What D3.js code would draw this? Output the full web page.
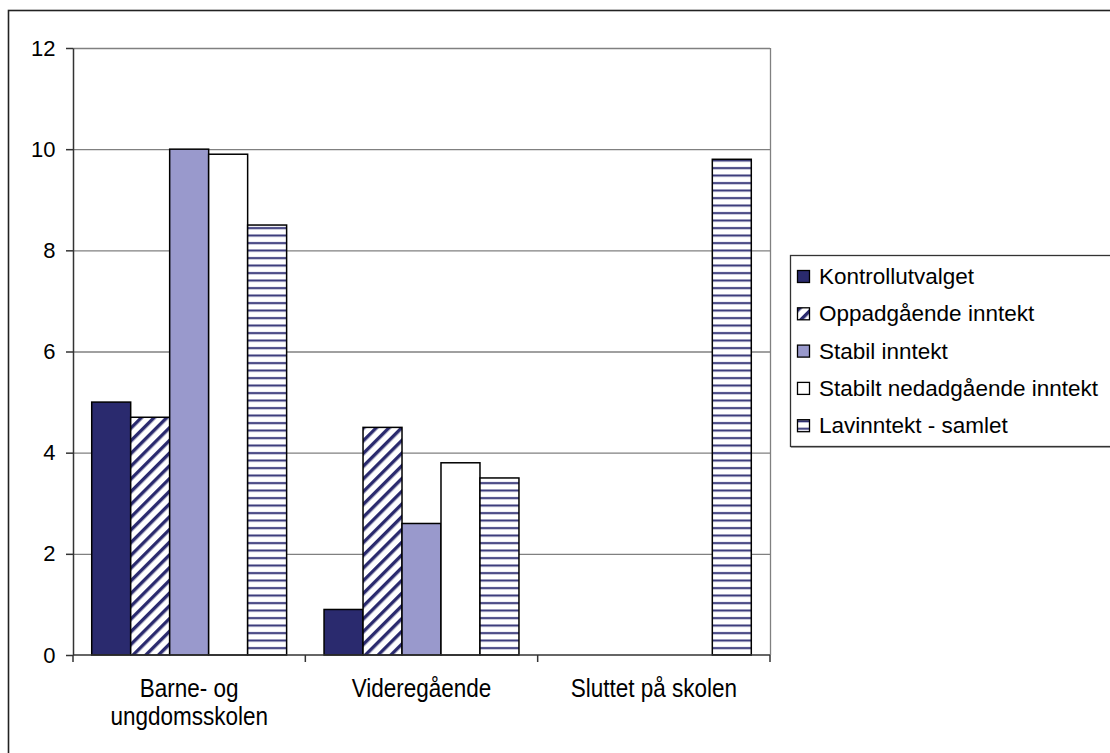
<!DOCTYPE html>
<html lang="no">
  <head>
    <meta charset="UTF-8" />
    <title>Skolenivå etter inntektsgruppe</title>
    <script src="https://d3js.org/d3.v7.min.js"></script>
    <style>
      body { margin: 0; background: #fff; }
      text { font-family: 'Liberation Sans', Arial, sans-serif; fill: #000; }
    </style>
  </head>
  <body>
    <svg width="1110" height="753"></svg>
    <script>
      // data
      var categories = ['Barne- og ungdomsskolen', 'Videregående', 'Sluttet på skolen']
      var categoryLines = [['Barne- og', 'ungdomsskolen'], ['Videregående'], ['Sluttet på skolen']]
      var seriesNames = [
        'Kontrollutvalget',
        'Oppadgående inntekt',
        'Stabil inntekt',
        'Stabilt nedadgående inntekt',
        'Lavinntekt - samlet'
      ]
      var kontroll = [5.0, 0.9, 0]
      var oppadgaende = [4.7, 4.5, 0]
      var stabil = [10.0, 2.6, 0]
      var nedadgaende = [9.9, 3.8, 0]
      var lavinntekt = [8.5, 3.5, 9.8]
      var seriesValues = [kontroll, oppadgaende, stabil, nedadgaende, lavinntekt]
      var yTicks = [0, 2, 4, 6, 8, 10, 12]

      var navy = '#2a2a6e'
      var fills = ['url(#solidNavy)', 'url(#diag)', '#9999cc', '#ffffff', 'url(#horiz)']

      var svg = d3.select('svg')
      var plot = { left: 73, top: 48, right: 770, bottom: 655 }

      // patterns
      var defs = svg.append('defs')
      defs.append('pattern').attr('id', 'solidNavy').attr('width', 4).attr('height', 4)
        .attr('patternUnits', 'userSpaceOnUse')
        .append('rect').attr('width', 4).attr('height', 4).attr('fill', navy)

      var diag = defs.append('pattern').attr('id', 'diag')
        .attr('patternUnits', 'userSpaceOnUse')
        .attr('width', 9).attr('height', 9)
        .attr('patternTransform', 'rotate(45)')
      diag.append('rect').attr('width', 9).attr('height', 9).attr('fill', '#fff')
      diag.append('rect').attr('x', 0).attr('width', 3.4).attr('height', 9).attr('fill', navy)

      var horiz = defs.append('pattern').attr('id', 'horiz')
        .attr('patternUnits', 'userSpaceOnUse')
        .attr('width', 8).attr('height', 7.5)
      horiz.append('rect').attr('width', 8).attr('height', 7.5).attr('fill', '#fff')
      horiz.append('rect').attr('y', 2).attr('width', 8).attr('height', 2.2).attr('fill', '#6a6aa0')
      horiz.append('rect').attr('y', 2.5).attr('width', 8).attr('height', 1.2).attr('fill', navy)

      // outer chart frame (runs off the right and bottom)
      svg.append('rect')
        .attr('x', 8.5).attr('y', 10.5)
        .attr('width', 1130).attr('height', 780)
        .attr('fill', 'none').attr('stroke', '#222').attr('stroke-width', 1.6)

      // scales
      var x0 = d3.scaleBand().domain(categories).range([plot.left, plot.right]).padding(0)
      var x1 = d3.scaleBand().domain(seriesNames).range([0, x0.bandwidth()])
        .paddingInner(0).paddingOuter(0.48)
      var y = d3.scaleLinear().domain([0, 12]).range([plot.bottom, plot.top])

      // grid lines
      svg.append('g').selectAll('line')
        .data(yTicks.filter(d => d > 0))
        .enter().append('line')
        .attr('x1', plot.left).attr('x2', plot.right)
        .attr('y1', d => y(d) + 0.5).attr('y2', d => y(d) + 0.5)
        .attr('stroke', '#808080').attr('stroke-width', 1.3)

      // plot area right edge
      svg.append('line')
        .attr('x1', plot.right + 0.5).attr('x2', plot.right + 0.5)
        .attr('y1', plot.top).attr('y2', plot.bottom)
        .attr('stroke', '#808080').attr('stroke-width', 1.3)

      // bars
      var groups = svg.append('g').selectAll('g')
        .data(categories)
        .enter().append('g')
        .attr('transform', d => `translate(${x0(d)},0)`)

      groups.selectAll('rect')
        .data((c, ci) => seriesNames.map((s, si) => ({ s: s, si: si, v: seriesValues[si][ci] })).filter(d => d.v > 0))
        .enter().append('rect')
        .attr('x', d => x1(d.s))
        .attr('width', x1.bandwidth())
        .attr('y', d => y(d.v))
        .attr('height', d => y(0) - y(d.v))
        .attr('fill', d => fills[d.si])
        .attr('stroke', '#000')
        .attr('stroke-width', 1.5)

      // y axis
      var yAxis = d3.axisLeft(y).tickValues(yTicks).tickSize(7).tickSizeOuter(0).tickPadding(10.5)
      var yg = svg.append('g').attr('transform', `translate(${plot.left},0)`).call(yAxis)
      yg.selectAll('path, line').attr('stroke', '#333').attr('stroke-width', 1.5)
      yg.selectAll('text')
        .style('font-family', "'Liberation Sans', Arial, sans-serif")
        .style('font-size', '22px').attr('fill', '#000')

      // x axis: baseline with ticks between categories
      var xg = svg.append('g')
      xg.append('line')
        .attr('x1', plot.left).attr('x2', plot.right)
        .attr('y1', plot.bottom).attr('y2', plot.bottom)
        .attr('stroke', '#333').attr('stroke-width', 1.5)
      var bounds = categories.map(c => x0(c)).concat([x0.range()[1]])
      xg.selectAll('line.tick')
        .data(bounds)
        .enter().append('line')
        .attr('class', 'tick')
        .attr('x1', d => d).attr('x2', d => d)
        .attr('y1', plot.bottom).attr('y2', plot.bottom + 7)
        .attr('stroke', '#333').attr('stroke-width', 1.5)

      // category labels are slightly condensed in the original
      var labels = xg.selectAll('text')
        .data(categories)
        .enter().append('text')
        .attr('transform', d => `translate(${x0(d) + x0.bandwidth() / 2},697) scale(0.9,1)`)
        .attr('text-anchor', 'middle')
        .style('font-size', '25px')
      labels.selectAll('tspan')
        .data((d, i) => categoryLines[i])
        .enter().append('tspan')
        .attr('x', 0)
        .attr('dy', (d, i) => (i === 0 ? 0 : 28))
        .text(d => d)

      // legend
      var legend = svg.append('g')
      legend.append('rect')
        .attr('x', 790.5).attr('y', 255.5)
        .attr('width', 340).attr('height', 191)
        .attr('fill', '#fff').attr('stroke', '#333').attr('stroke-width', 1.3)
      legend.append('line')
        .attr('x1', 791).attr('x2', 1110)
        .attr('y1', 447.5).attr('y2', 447.5)
        .attr('stroke', '#999').attr('stroke-width', 1)

      var items = legend.selectAll('g.item')
        .data(seriesNames)
        .enter().append('g')
        .attr('class', 'item')
        .attr('transform', (d, i) => `translate(797,${284 + i * 37.3})`)
      items.append('rect')
        .attr('x', 0.5).attr('y', -13.5)
        .attr('width', 12).attr('height', 12)
        .attr('fill', (d, i) => fills[i])
        .attr('stroke', '#000').attr('stroke-width', 1.3)
      items.append('text')
        .attr('x', 22).attr('y', 0)
        .style('font-size', '22.5px')
        .text(d => d)
    </script>
  </body>
</html>
